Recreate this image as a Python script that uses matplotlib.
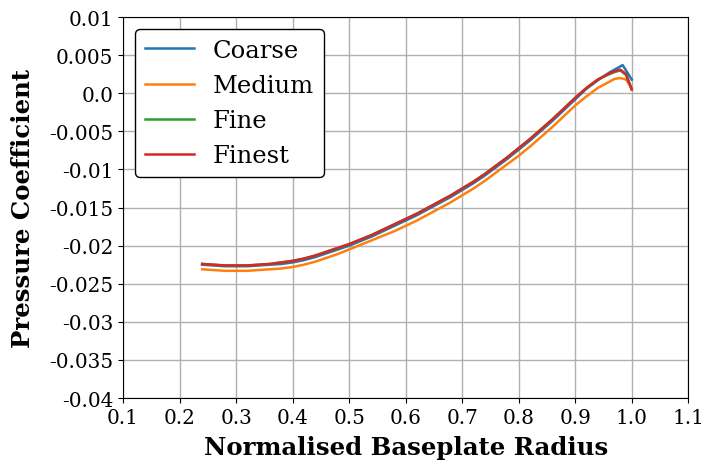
import matplotlib
matplotlib.use("Agg")
import matplotlib.pyplot as plt

# Radial pressure-coefficient profiles for the mesh-independence study
radius = [0.24, 0.26, 0.28, 0.30, 0.32, 0.34, 0.36, 0.38, 0.40, 0.42,
          0.44, 0.46, 0.48, 0.50, 0.52, 0.54, 0.56, 0.58, 0.60, 0.62,
          0.64, 0.66, 0.68, 0.70, 0.72, 0.74, 0.76, 0.78, 0.80, 0.82,
          0.84, 0.86, 0.88, 0.90, 0.92, 0.94, 0.96, 0.97, 0.98, 0.99, 1.00]

cp_finest = [-0.0224, -0.0225, -0.0226, -0.0226, -0.0226, -0.0225, -0.0224, -0.0222, -0.0220, -0.0217,
             -0.0213, -0.0208, -0.0203, -0.0198, -0.0192, -0.0186, -0.0179, -0.0172, -0.0165, -0.0158,
             -0.0150, -0.0142, -0.0134, -0.0125, -0.0116, -0.0106, -0.0095, -0.0084, -0.0072, -0.0060,
             -0.0047, -0.0034, -0.0020, -0.0006, 0.0007, 0.0018, 0.0026, 0.0029, 0.0031, 0.0025, 0.0005]

cp_fine = [-0.0224, -0.0225, -0.0226, -0.0226, -0.0226, -0.0225, -0.0224, -0.0222, -0.0220, -0.0217,
           -0.0213, -0.0208, -0.0203, -0.0198, -0.0192, -0.0186, -0.0179, -0.0172, -0.0165, -0.0158,
           -0.0150, -0.0142, -0.0134, -0.0125, -0.0116, -0.0106, -0.0095, -0.0084, -0.0072, -0.0060,
           -0.0047, -0.0034, -0.0020, -0.0006, 0.0007, 0.0018, 0.0025, 0.0028, 0.0030, 0.0024, 0.0005]

cp_medium = [-0.0231, -0.0232, -0.0233, -0.0233, -0.0233, -0.0232, -0.0231, -0.0230, -0.0228, -0.0225,
             -0.0221, -0.0216, -0.0211, -0.0205, -0.0199, -0.0193, -0.0187, -0.0181, -0.0174, -0.0167,
             -0.0159, -0.0151, -0.0143, -0.0134, -0.0125, -0.0115, -0.0104, -0.0093, -0.0082, -0.0070,
             -0.0057, -0.0044, -0.0030, -0.0016, -0.0004, 0.0007, 0.0015, 0.0019, 0.0020, 0.0018, 0.0007]

radius_coarse = [0.24, 0.26, 0.28, 0.30, 0.32, 0.34, 0.36, 0.38, 0.40, 0.42,
                 0.44, 0.46, 0.48, 0.50, 0.52, 0.54, 0.56, 0.58, 0.60, 0.62,
                 0.64, 0.66, 0.68, 0.70, 0.72, 0.74, 0.76, 0.78, 0.80, 0.82,
                 0.84, 0.86, 0.88, 0.90, 0.92, 0.94, 0.96, 0.984, 1.00]
cp_coarse = [-0.0225, -0.0226, -0.0227, -0.0227, -0.0227, -0.0226, -0.0225, -0.0224, -0.0222, -0.0219,
             -0.0215, -0.0210, -0.0205, -0.0200, -0.0194, -0.0188, -0.0181, -0.0174, -0.0167, -0.0160,
             -0.0152, -0.0144, -0.0136, -0.0127, -0.0118, -0.0108, -0.0097, -0.0086, -0.0074, -0.0062,
             -0.0049, -0.0036, -0.0022, -0.0008, 0.0006, 0.0017, 0.0027, 0.0037, 0.0018]

x_ticks = [0.1, 0.2, 0.3, 0.4, 0.5, 0.6, 0.7, 0.8, 0.9, 1.0, 1.1]
x_tick_labels = ["0.1", "0.2", "0.3", "0.4", "0.5", "0.6", "0.7", "0.8", "0.9", "1.0", "1.1"]
y_ticks = [0.01, 0.005, 0.0, -0.005, -0.01, -0.015, -0.02, -0.025, -0.03, -0.035, -0.04]
y_tick_labels = ["0.01", "0.005", "0.0", "-0.005", "-0.01", "-0.015", "-0.02",
                 "-0.025", "-0.03", "-0.035", "-0.04"]

plt.rcParams["font.family"] = ["DejaVu Serif"]

fig = plt.figure(figsize=(7.03, 4.64), dpi=100)
ax = fig.add_axes([0.175, 0.140, 0.804, 0.821])

ax.plot(radius_coarse, cp_coarse, color="#1f77b4", lw=1.8, label="Coarse")
ax.plot(radius, cp_medium, color="#ff7f0e", lw=1.8, label="Medium")
ax.plot(radius, cp_fine, color="#2ca02c", lw=1.8, label="Fine")
ax.plot(radius, cp_finest, color="#d62728", lw=1.8, label="Finest")

ax.set_xlim(0.1, 1.1)
ax.set_ylim(-0.04, 0.01)
ax.set_xticks(x_ticks)
ax.set_xticklabels(x_tick_labels)
ax.set_yticks(y_ticks)
ax.set_yticklabels(y_tick_labels)
ax.tick_params(labelsize=14.4)
ax.grid(True, color="#b0b0b0", lw=1.0)
ax.set_axisbelow(True)

ax.set_xlabel("Normalised Baseplate Radius", fontsize=17.6, fontweight="bold", labelpad=6)
ax.set_ylabel("Pressure Coefficient", fontsize=17.6, fontweight="bold", labelpad=10)

leg = ax.legend(loc="upper left", fontsize=17.5, framealpha=1.0, edgecolor="black",
                fancybox=True)
leg.get_frame().set_linewidth(1.0)

fig.savefig("out.png", dpi=100)
